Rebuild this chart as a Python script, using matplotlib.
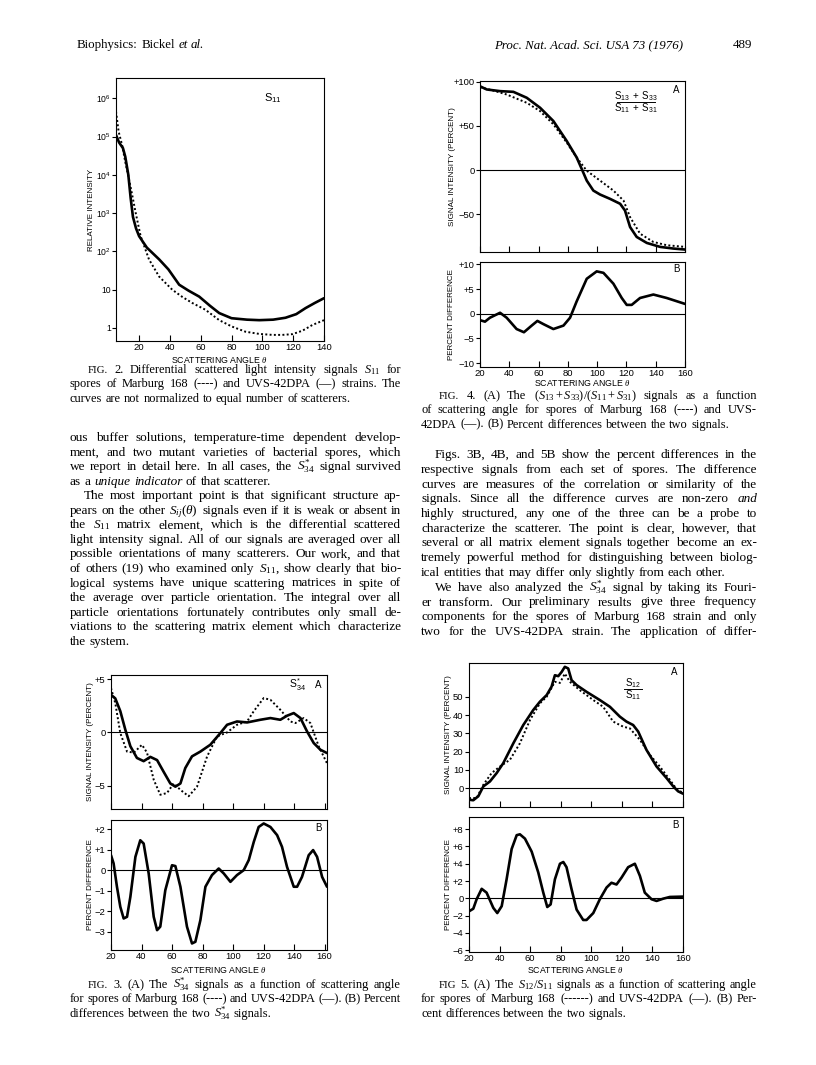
import matplotlib
matplotlib.use('Agg')
import matplotlib.pyplot as plt
from matplotlib.lines import Line2D

W, H = 816, 1065

plt.rcParams['font.family'] = ['Liberation Sans', 'DejaVu Sans']
plt.rcParams['mathtext.fontset'] = 'custom'
plt.rcParams['mathtext.rm'] = 'Liberation Serif'
plt.rcParams['mathtext.it'] = 'Liberation Serif:italic'
plt.rcParams['mathtext.sf'] = 'Liberation Sans'
plt.rcParams['axes.linewidth'] = 0.8

# ---- Fig. 2 : S11 (log scale)
f2_theta_solid = [5, 7, 9.5, 11, 13, 14.5, 16, 18, 20, 25, 33, 39, 46, 52, 59, 66, 72,
                  80, 90, 98, 107, 115, 122, 128, 134, 140]
f2_solid = [1.1e5, 7e4, 5e4, 3e4, 1e4, 2.5e3, 8e2, 4e2, 250, 126, 62, 34, 13.5, 9.5, 6.6,
            3.8, 2.45, 1.8, 1.65, 1.6, 1.65, 1.85, 2.3, 3.3, 4.5, 6.0]
f2_theta_dot = [5, 6.7, 9, 11, 13.4, 15.5, 17.7, 21, 26.4, 33, 41.5, 48, 54.5, 63, 72,
                80, 89, 98, 106.5, 113, 119.5, 126, 132.5, 140]
f2_dot = [4.5e5, 1.35e5, 5.9e4, 2.2e4, 7.8e3, 3e3, 1.05e3, 250, 62, 22, 10, 6.5, 4.5,
          3.0, 1.6, 1.1, 0.8, 0.7, 0.66, 0.66, 0.69, 0.85, 1.2, 1.6]

# ---- Fig. 4A : (S13+S33)/(S11+S31)
f4a_theta_solid = [20, 24.6, 33.7, 42.8, 51.9, 61, 70.1, 79.2, 86, 89.5, 92.9, 97.4, 102,
                   108.8, 115.7, 119, 122.5, 127, 133.9, 143, 152.1, 160]
f4a_solid = [95, 91.4, 89.5, 88.7, 82, 70.7, 55.6, 33, 14.3, 1.1, -12, -23.3, -27.8,
             -32.7, -38.3, -45.9, -64.7, -75.9, -82.7, -87.2, -89.1, -90.2]
f4a_theta_dot = [20, 29, 38.2, 51.9, 61, 70.1, 79.2, 86, 92.9, 102, 111.1, 118, 122.5,
                 129.3, 138.4, 147.5, 160]
f4a_dot = [94, 90.2, 85.7, 76.3, 66.9, 51.9, 31.2, 14.3, -0.8, -12, -23.3, -34.6, -53.4,
           -72.2, -81.6, -85.3, -87.2]

# ---- Fig. 4B : percent difference
f4b_theta = [20, 23.4, 26.8, 33.7, 38.2, 45, 50, 55.3, 59.2, 63.3, 70.1, 77, 81.5, 86,
             92.9, 99.7, 104.3, 111.1, 116.8, 120.2, 123.6, 129.3, 138.4, 147.5, 160]
f4b_diff = [-1.3, -1.6, -0.8, 0.2, -0.8, -3.1, -3.75, -2.4, -1.45, -2.1, -3.1, -2.4, -0.8,
            2.5, 7.1, 8.6, 8.3, 6.1, 3.2, 1.8, 1.8, 3.2, 3.9, 3.2, 2.0]

# ---- Fig. 3A : S*34
f3a_theta_solid = [20, 22.8, 26.1, 29.4, 32.7, 37, 41.4, 45.8, 50.2, 54.5, 58.9, 62.2,
                   65.5, 68.7, 73.1, 78.6, 85.1, 91.7, 96.1, 102.6, 109.2, 117.9, 124.5,
                   131, 135.4, 139.8, 144.2, 148.5, 152.9, 157.3, 161.6]
f3a_solid = [3.54, 3.2, 2.0, 0.25, -1.3, -2.4, -2.7, -2.3, -2.6, -3.7, -4.8, -5.1, -4.8,
             -3.35, -2.25, -1.8, -1.16, -0.06, 0.72, 1.03, 0.94, 1.19, 1.35, 1.19, 1.57,
             1.82, 1.35, 0.1, -1.0, -1.63, -1.94]
f3a_theta_dot = [20, 22.8, 26.1, 30.5, 35, 40.3, 43.6, 48, 52.3, 56.7, 61.1, 65.5, 70.9,
                 76.4, 83, 89.5, 96.1, 102.6, 109.2, 113.6, 120.1, 124.5, 131, 137.6,
                 140.9, 146.3, 150.7, 156.2, 161.6]
f3a_dot = [4.17, 2.76, -0.06, -1.8, -1.9, -1.16, -1.9, -4.45, -5.86, -5.7, -4.8, -5.4,
           -6.0, -5.1, -2.26, -0.38, 0.0, 0.72, 1.03, 2.0, 3.23, 3.07, 2.13, 1.03, 0.88,
           1.35, 0.88, -1.32, -2.9]

# ---- Fig. 3B : percent difference
f3b_theta = [20, 21.7, 23.9, 26.1, 28.3, 30.5, 32.7, 36, 39.2, 41.4, 44.7, 48, 50.2,
             52.3, 55.6, 60, 62.2, 65.5, 69.8, 73.1, 75.3, 78.6, 81.9, 86.2, 90.6, 93.9,
             98.3, 102.6, 107, 110.3, 113.6, 116.8, 120.1, 124.5, 128.9, 132.1, 135.4,
             139.8, 142, 145.2, 149.6, 152.5, 155.1, 158.4, 161.6]
f3b_diff = [0.73, 0.33, -0.81, -1.79, -2.36, -2.28, -1.3, 0.65, 1.46, 1.3, -0.16, -2.28,
            -2.93, -2.76, -0.98, 0.24, 0.2, -0.81, -2.76, -3.58, -3.5, -2.44, -0.81,
            -0.24, 0.08, -0.16, -0.57, -0.24, 0.0, 0.49, 1.38, 2.11, 2.28, 2.11, 1.71,
            1.14, 0.16, -0.81, -0.81, -0.33, 0.73, 0.98, 0.65, -0.33, -0.81]

# ---- Fig. 5A : S12/S11
f5a_theta_solid = [20, 22.8, 26.1, 29.4, 33.7, 38.1, 42.4, 49, 55.5, 62, 66.4, 70.8, 74,
                   76.2, 78.4, 80.6, 82.7, 84.9, 87.1, 90.4, 96.9, 105.6, 112.2, 118.7,
                   123, 127.4, 130.7, 136.1, 142.7, 149.2, 153.6, 156.8, 160]
f5a_solid = [-6.4, -6.7, -4.5, 0.9, 3.6, 8.2, 13.6, 24.5, 34.5, 42.7, 47.3, 50.9, 55.5,
             61.8, 61.3, 63.6, 66.4, 65.5, 59.1, 56.4, 52.7, 48.2, 44.5, 39.1, 36.4, 34.5,
             30.9, 20.9, 11.8, 5.5, 0.9, -1.8, -3.1]
f5a_theta_dot = [20, 25, 29.4, 34.8, 40.3, 46.8, 53.3, 59.9, 66.4, 70.8, 76.2, 79.5,
                 82.7, 86, 92.5, 101.3, 107.8, 114.3, 120.9, 125.2, 131.8, 138.3, 144.8,
                 151.4, 155.7, 160]
f5a_dot = [-5.5, -5.5, 1.8, 8.2, 11.8, 15.5, 24.5, 37.3, 46.4, 50, 58.2, 57.6, 62.7,
           58.2, 53.6, 48.2, 44.5, 36.4, 33.6, 32.7, 26.4, 18.2, 11.8, 4.5, -0.5, -2.7]

# ---- Fig. 5B : percent difference
f5b_theta = [20, 22.8, 25, 28.3, 31.5, 35.9, 38.5, 41.4, 44.6, 47.9, 51.2, 53.3, 56.6,
             61, 65.3, 68.6, 71.2, 73.4, 76.2, 79.5, 81.7, 83.8, 87.1, 90.4, 94.7, 96.9,
             101.3, 105.6, 110, 113.2, 116.5, 119.8, 124.1, 128.5, 131.8, 135, 139.4,
             142.7, 147, 151.4, 160]
f5b_diff = [-1.5, -1.2, -0.1, 1.1, 0.66, -1.1, -1.7, -0.9, 2.2, 5.7, 7.3, 7.4, 6.9, 5.4,
            3.0, 0.66, -1.0, -0.7, 2.2, 4.0, 4.2, 3.6, 1.05, -1.3, -2.5, -2.5, -1.7, -0.1,
            1.25, 1.8, 1.6, 2.4, 3.6, 4.0, 2.6, 0.66, -0.1, -0.3, -0.04, 0.16, 0.2]

angle_ticks = [20, 40, 60, 80, 100, 120, 140, 160]

# ---- page text
header_left = "Biophysics:  Bickel ~et ~al."
header_right = "Proc. Nat. Acad. Sci. USA 73 (1976)"
page_no = "489"

cap2 = [("^FIG. 2.  Differential scattered light intensity signals $S_{11}$ for", 18, True),
        ("spores of Marburg 168 (----) and UVS-42DPA (—) strains. The", 0, True),
        ("curves are not normalized to equal number of scatterers.", 0, False)]
cap4 = [("^FIG. 4.  (A) The $(S_{13}+S_{33})/(S_{11}+S_{31})$ signals as a function", 18, True),
        ("of scattering angle for spores of Marburg 168 (----) and UVS-", 0, True),
        ("42DPA (—). (B) Percent differences between the two signals.", 0, False)]
cap3 = [("^FIG. 3.  (A) The $S^{*}_{34}$ signals as a function of scattering angle", 18, True),
        ("for spores of Marburg 168 (----) and UVS-42DPA (—). (B) Percent", 0, True),
        ("differences between the two $S^{*}_{34}$ signals.", 0, False)]
cap5 = [("^FIG 5.  (A) The $S_{12}/S_{11}$ signals as a function of scattering angle", 18, True),
        ("for spores of Marburg 168 (------) and UVS-42DPA (—). (B) Per-", 0, True),
        ("cent differences between the two signals.", 0, False)]

body_left = [
    ("ous buffer solutions, temperature-time dependent develop-", 0, True),
    ("ment, and two mutant varieties of bacterial spores, which", 0, True),
    ("we report in detail here. In all cases, the $S^{*}_{34}$ signal survived", 0, True),
    ("as a ~unique ~indicator of that scatterer.", 0, False),
    ("The most important point is that significant structure ap-", 14, True),
    ("pears on the other $S_{ij}(\\theta)$ signals even if it is weak or absent in", 0, True),
    ("the $S_{11}$ matrix element, which is the differential scattered", 0, True),
    ("light intensity signal. All of our signals are averaged over all", 0, True),
    ("possible orientations of many scatterers. Our work, and that", 0, True),
    ("of others (19) who examined only $S_{11}$, show clearly that bio-", 0, True),
    ("logical systems have unique scattering matrices in spite of", 0, True),
    ("the average over particle orientation. The integral over all", 0, True),
    ("particle orientations fortunately contributes only small de-", 0, True),
    ("viations to the scattering matrix element which characterize", 0, True),
    ("the system.", 0, False),
]
body_right = [
    ("Figs. 3B, 4B, and 5B show the percent differences in the", 14, True),
    ("respective signals from each set of spores. The difference", 0, True),
    ("curves are measures of the correlation or similarity of the", 0, True),
    ("signals. Since all the difference curves are non-zero ~and", 0, True),
    ("highly structured, any one of the three can be a probe to", 0, True),
    ("characterize the scatterer. The point is clear, however, that", 0, True),
    ("several or all matrix element signals together become an ex-", 0, True),
    ("tremely powerful method for distinguishing between biolog-", 0, True),
    ("ical entities that may differ only slightly from each other.", 0, False),
    ("We have also analyzed the $S^{*}_{34}$ signal by taking its Fouri-", 14, True),
    ("er transform. Our preliminary results give three frequency", 0, True),
    ("components for the spores of Marburg 168 strain and only", 0, True),
    ("two for the UVS-42DPA strain. The application of differ-", 0, True),
]

fig = plt.figure(figsize=(W / 100, H / 100), dpi=100)
renderer = fig.canvas.get_renderer()


def T(x, y, s, **kw):
    return fig.text(x / W, 1 - y / H, s, **kw)


def put_line(line, x0, x1, y, size):
    text, indent, justify = line
    words = [w for w in text.split(' ') if w]
    objs = []
    for w in words:
        style, fs = 'normal', size
        if w.startswith('~'):
            style, w = 'italic', w[1:]
        if w.startswith('^'):
            fs, w = size * 0.88, w[1:]
        objs.append(T(0, y, w, fontsize=fs, family='Liberation Serif', style=style,
                      va='baseline', ha='left'))
    widths = [t.get_window_extent(renderer).width for t in objs]
    x = x0 + indent
    gap = size * 100 / 72 * 0.27
    if justify and len(objs) > 1:
        gap = max((x1 - x - sum(widths)) / (len(objs) - 1), 2.0)
    for t, wd in zip(objs, widths):
        t.set_x(x / W)
        x += wd + gap


def put_block(lines, x0, x1, y0, dy, size):
    for i, line in enumerate(lines):
        put_line(line, x0, x1, y0 + i * dy, size)


def panel(x0, y0, x1, y1):
    ax = fig.add_axes([x0 / W, 1 - y1 / H, (x1 - x0) / W, (y1 - y0) / H])
    ax.tick_params(axis='x', direction='in', length=4, width=0.8, labelsize=6.8, pad=1.5)
    ax.tick_params(axis='y', direction='out', length=3, width=0.8, labelsize=6.8, pad=1)
    return ax


def ylab(ax, s, px, box):
    x0, y0, x1, y1 = box
    ax.set_ylabel(s, fontsize=5.8)
    ax.yaxis.set_label_coords((px + 3 - x0) / (x1 - x0), 0.5)


def xlab(ax, py, box):
    x0, y0, x1, y1 = box
    ax.set_xlabel('SCATTERING ANGLE $\\theta$', fontsize=6.3)
    ax.xaxis.set_label_coords(0.5, -(py - 3 - y1) / (y1 - y0))


def signed(v):
    if v > 0:
        return '+%g' % v
    if v < 0:
        return '\u2212%g' % -v
    return '0'


solid_kw = dict(color='black', lw=1.9, solid_joinstyle='round', solid_capstyle='round')
dot_kw = dict(color='black', lw=1.4, linestyle=(0, (1, 1.2)))

# header
put_line((header_left, 0, False), 77, 400, 48, 9.3)
T(683, 48, header_right, fontsize=9.3, family='Liberation Serif', style='italic',
  ha='right', va='baseline')
T(752, 48, page_no, fontsize=9.3, family='Liberation Serif', ha='right', va='baseline')

# Fig. 2
b2 = (116, 78, 324, 341)
ax = panel(*b2)
ax.set_yscale('log')
ax.plot(f2_theta_solid, f2_solid, **solid_kw)
ax.plot(f2_theta_dot, f2_dot, **dot_kw)
ax.set_xlim(5, 140)
ax.set_ylim(10 ** -0.34, 10 ** 6.53)
ax.set_xticks(angle_ticks[:-1])
ax.set_yticks([1, 10, 1e2, 1e3, 1e4, 1e5, 1e6])
ax.set_yticklabels(['1', '10'] + ['$\\mathsf{10^{%d}}$' % k for k in range(2, 7)])
ax.tick_params(axis='y', labelsize=6.2, pad=0.5)
ax.minorticks_off()
ylab(ax, 'RELATIVE INTENSITY', 92, b2)
xlab(ax, 357, b2)
T(273, 101, '$\\mathsf{S_{11}}$', fontsize=8, ha='center')
put_block(cap2, 70, 401, 373, 14.3, 8.9)

# Fig. 4
b4a = (480, 81, 685, 252)
ax = panel(*b4a)
ax.plot(f4a_theta_solid, f4a_solid, **solid_kw)
ax.plot(f4a_theta_dot, f4a_dot, **dot_kw)
ax.axhline(0, color='black', lw=0.8)
ax.set_xlim(20, 160)
ax.set_ylim(-93, 101)
ax.set_xticks(angle_ticks)
ax.tick_params(axis='x', labelbottom=False)
ax.set_yticks([-50, 0, 50, 100])
ax.set_yticklabels([signed(v) for v in [-50, 0, 50, 100]])
ylab(ax, 'SIGNAL INTENSITY (PERCENT)', 453, b4a)
T(676, 93, 'A', fontsize=7, ha='center')
T(636, 99, '$\\mathsf{S_{13}\\ +\\ S_{33}}$', fontsize=7, ha='center')
fig.add_artist(Line2D([617 / W, 655 / W], [1 - 102 / H] * 2, color='black', lw=0.7))
T(636, 111, '$\\mathsf{S_{11}\\ +\\ S_{31}}$', fontsize=7, ha='center')

b4b = (480, 262, 685, 367)
ax = panel(*b4b)
ax.plot(f4b_theta, f4b_diff, **solid_kw)
ax.axhline(0, color='black', lw=0.8)
ax.set_xlim(20, 160)
ax.set_ylim(-10.8, 10.5)
ax.set_xticks(angle_ticks)
ax.set_yticks([-10, -5, 0, 5, 10])
ax.set_yticklabels([signed(v) for v in [-10, -5, 0, 5, 10]])
ylab(ax, 'PERCENT DIFFERENCE', 452, b4b)
xlab(ax, 380, b4b)
T(676, 272, 'B', fontsize=7, ha='center')
put_block(cap4, 421, 757, 399, 14.3, 8.9)

# body text
put_block(body_left, 70, 401, 441, 14.55, 9.5)
put_block(body_right, 421, 757, 458, 14.75, 9.5)

# Fig. 3
b3a = (111, 675, 327, 809)
ax = panel(*b3a)
ax.plot(f3a_theta_solid, f3a_solid, **solid_kw)
ax.plot(f3a_theta_dot, f3a_dot, **dot_kw)
ax.axhline(0, color='black', lw=0.8)
ax.set_xlim(20, 161.6)
ax.set_ylim(-7.2, 5.4)
ax.set_xticks(angle_ticks)
ax.tick_params(axis='x', labelbottom=False)
ax.set_yticks([-5, 0, 5])
ax.set_yticklabels([signed(v) for v in [-5, 0, 5]])
ylab(ax, 'SIGNAL INTENSITY (PERCENT)', 91, b3a)
T(297, 688, '$\\mathsf{S^{*}_{34}}$', fontsize=7.5, ha='center')
T(318, 688, 'A', fontsize=7, ha='center')

b3b = (111, 820, 327, 950)
ax = panel(*b3b)
ax.plot(f3b_theta, f3b_diff, **solid_kw)
ax.axhline(0, color='black', lw=0.8)
ax.set_xlim(20, 161.6)
ax.set_ylim(-3.9, 2.45)
ax.set_xticks(angle_ticks)
ax.set_yticks([-3, -2, -1, 0, 1, 2])
ax.set_yticklabels([signed(v) for v in [-3, -2, -1, 0, 1, 2]])
ylab(ax, 'PERCENT DIFFERENCE', 91, b3b)
xlab(ax, 967, b3b)
T(318, 831, 'B', fontsize=7, ha='center')
put_block(cap3, 70, 401, 988, 14.3, 8.9)

# Fig. 5
b5a = (469, 663, 683, 807)
ax = panel(*b5a)
ax.plot(f5a_theta_solid, f5a_solid, **solid_kw)
ax.plot(f5a_theta_dot, f5a_dot, **dot_kw)
ax.axhline(0, color='black', lw=0.8)
ax.set_xlim(20, 160)
ax.set_ylim(-10.4, 68.5)
ax.set_xticks(angle_ticks)
ax.tick_params(axis='x', labelbottom=False)
ax.set_yticks([0, 10, 20, 30, 40, 50])
ylab(ax, 'SIGNAL INTENSITY (PERCENT)', 449, b5a)
T(674, 675, 'A', fontsize=7, ha='center')
T(633, 686, '$\\mathsf{S_{12}}$', fontsize=7, ha='center')
fig.add_artist(Line2D([624 / W, 642 / W], [1 - 689 / H] * 2, color='black', lw=0.7))
T(633, 698, '$\\mathsf{S_{11}}$', fontsize=7, ha='center')

b5b = (469, 817, 683, 952)
ax = panel(*b5b)
ax.plot(f5b_theta, f5b_diff, **solid_kw)
ax.axhline(0, color='black', lw=0.8)
ax.set_xlim(20, 160)
ax.set_ylim(-6.2, 9.4)
ax.set_xticks(angle_ticks)
ax.set_yticks([-6, -4, -2, 0, 2, 4, 6, 8])
ax.set_yticklabels([signed(v) for v in [-6, -4, -2, 0, 2, 4, 6, 8]])
ylab(ax, 'PERCENT DIFFERENCE', 449, b5b)
xlab(ax, 967, b5b)
T(675, 828, 'B', fontsize=7, ha='center')
put_block(cap5, 421, 757, 988, 14.3, 8.9)

fig.savefig('out.png', dpi=100)
